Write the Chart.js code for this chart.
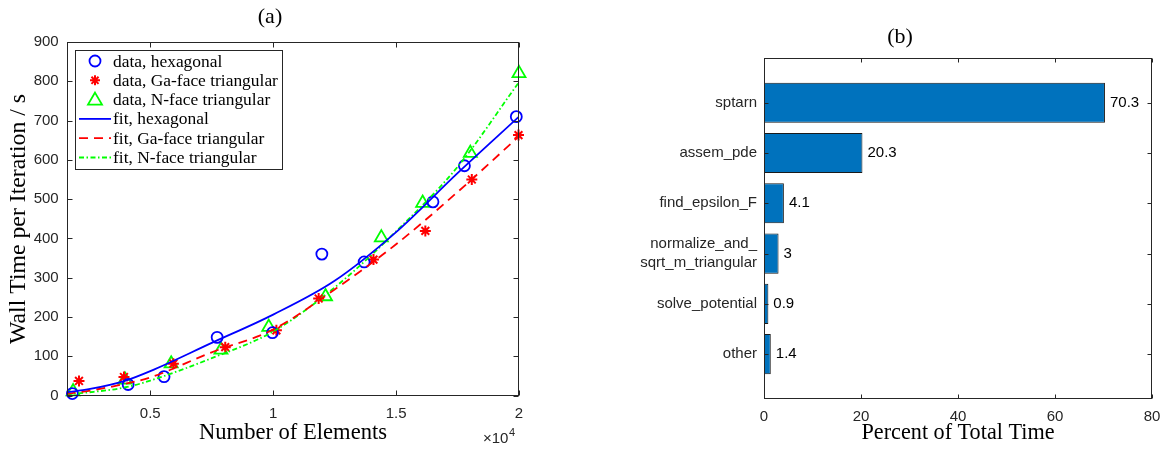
<!DOCTYPE html>
<html>
<head>
<meta charset="utf-8">
<script src="https://cdn.jsdelivr.net/npm/chart.js@4.4.0/dist/chart.umd.min.js"></script>
<style>
    html, body { margin: 0; padding: 0; background: #fff; }
    #wrap { position: relative; width: 1171px; height: 449px; }
    #boxA { position: absolute; left: 0; top: 0; }
    #boxB { position: absolute; left: 560px; top: 0; }
</style>
</head>
<body>
<div id="wrap">
    <div id="boxA"><canvas id="chartA" width="545" height="449"></canvas></div>
    <div id="boxB"><canvas id="chartB" width="611" height="449"></canvas></div>
</div>
<script>
// (a) wall time data
var hexX = [1830, 4100, 5560, 7720, 9970, 11980, 13700, 16500, 17780, 19890];
var hexY = [5, 28, 48, 148, 160, 360, 340, 493, 585, 710];
var gaX = [2100, 3930, 5940, 8050, 10130, 11850, 14080, 16190, 18080, 19980];
var gaY = [37, 47, 81, 123, 166, 247, 346, 419, 550, 663];
var nX = [1860, 3970, 5850, 7875, 9820, 12130, 14400, 16080, 18020, 20000];
var nY = [10, 40, 81, 116, 174, 252, 402, 490, 617, 820];

// fit curves
var fitX = [1600, 2500, 4000, 5000, 7500, 10000, 12500, 15000, 17500, 20000];
var hexFit = [8, 16, 38, 62, 134, 206, 292, 416, 566, 710];
var gaFit = [4, 12, 30, 46, 110, 168, 270, 385, 518, 660];
var nFit = [3, 8, 21, 38, 95, 163, 275, 418, 582, 798];

var xTicksA = [5000, 10000, 15000, 20000];
var yTicksA = [0, 100, 200, 300, 400, 500, 600, 700, 800, 900];

// (b) time breakdown
var barNames = ['sptarn', 'assem_pde', 'find_epsilon_F', ['normalize_and_', 'sqrt_m_triangular'], 'solve_potential', 'other'];
var barVals = [70.3, 20.3, 4.1, 3, 0.9, 1.4];
var xTicksB = [0, 20, 40, 60, 80];

var SANS = '"Liberation Sans", Arial, sans-serif';
var SERIF = '"Liberation Serif", "Times New Roman", serif';
var AXIS = '#262626';

function pts(xs, ys) {
    return xs.map(function (x, i) { return {x: x, y: ys[i]}; });
}

// pick a font size so the text spans about the same width as in the reference
function fitFont(ctx, text, width, family) {
    ctx.font = '20px ' + family;
    var size = 20 * width / ctx.measureText(text).width;
    return size.toFixed(2) + 'px ' + family;
}

function drawMarker(ctx, style, x, y, color) {
    ctx.save();
    ctx.strokeStyle = color;
    ctx.setLineDash([]);
    ctx.beginPath();
    if (style === 'circle') {
        ctx.lineWidth = 1.8;
        ctx.arc(x, y, 5.5, 0, Math.PI * 2);
    } else if (style === 'star') {
        ctx.lineWidth = 2;
        for (var k = 0; k < 4; k++) {
            var a = k * Math.PI / 4;
            ctx.moveTo(x - 5 * Math.cos(a), y - 5 * Math.sin(a));
            ctx.lineTo(x + 5 * Math.cos(a), y + 5 * Math.sin(a));
        }
    } else {
        ctx.lineWidth = 1.8;
        ctx.moveTo(x, y - 7);
        ctx.lineTo(x + 7, y + 5);
        ctx.lineTo(x - 7, y + 5);
        ctx.closePath();
    }
    ctx.stroke();
    ctx.restore();
}

// box round the axes with inward ticks, like MATLAB
var frameTicks = {
    id: 'frameTicks',
    afterDraw: function (chart) {
        var ctx = chart.ctx, a = chart.chartArea;
        var len = chart.canvas.id === 'chartA' ? 5 : 4;
        var l = Math.round(a.left) + 0.5, r = Math.round(a.right) - 0.5;
        var t = Math.round(a.top) + 0.5, b = Math.round(a.bottom) - 0.5;
        ctx.save();
        ctx.strokeStyle = AXIS;
        ctx.lineWidth = 1;
        ctx.strokeRect(l, t, r - l, b - t);
        ctx.beginPath();
        chart.scales.x.ticks.forEach(function (tk) {
            var px = Math.round(chart.scales.x.getPixelForValue(tk.value)) + 0.5;
            ctx.moveTo(px, b); ctx.lineTo(px, b - len);
            ctx.moveTo(px, t); ctx.lineTo(px, t + len);
        });
        chart.scales.y.ticks.forEach(function (tk) {
            var py = Math.round(chart.scales.y.getPixelForValue(tk.value)) + 0.5;
            ctx.moveTo(l, py); ctx.lineTo(l + len, py);
            ctx.moveTo(r, py); ctx.lineTo(r - len, py);
        });
        ctx.stroke();
        ctx.restore();
    }
};

var textA = {
    id: 'textA',
    afterDraw: function (chart) {
        var ctx = chart.ctx;
        ctx.save();
        ctx.fillStyle = '#000';
        ctx.textAlign = 'center';
        ctx.textBaseline = 'middle';
        ctx.font = '22px ' + SERIF;
        ctx.fillText('(a)', 270, 17);
        ctx.font = fitFont(ctx, 'Number of Elements', 188, SERIF);
        ctx.fillText('Number of Elements', 293, 433);
        ctx.save();
        ctx.translate(19, 219);
        ctx.rotate(-Math.PI / 2);
        ctx.font = fitFont(ctx, 'Wall Time per Iteration / s', 250, SERIF);
        ctx.fillText('Wall Time per Iteration / s', 0, 0);
        ctx.restore();
        // x10^4 multiplier
        ctx.fillStyle = AXIS;
        ctx.textAlign = 'left';
        ctx.textBaseline = 'alphabetic';
        ctx.font = '15px ' + SANS;
        var w = ctx.measureText('\u00d710').width;
        ctx.fillText('\u00d710', 483, 443);
        ctx.font = '11px ' + SANS;
        ctx.fillText('4', 483 + w + 0.5, 436);

        // legend
        var lx = 75.5, ly = 50.5, lw = 207, lh = 119;
        ctx.fillStyle = '#fff';
        ctx.fillRect(lx, ly, lw, lh);
        ctx.strokeStyle = AXIS;
        ctx.lineWidth = 1;
        ctx.strokeRect(lx, ly, lw, lh);
        var rows = [
            {text: 'data, hexagonal', marker: 'circle', color: '#0000ff'},
            {text: 'data, Ga-face triangular', marker: 'star', color: '#ff0000'},
            {text: 'data, N-face triangular', marker: 'triangle', color: '#00ff00'},
            {text: 'fit, hexagonal', dash: [], color: '#0000ff'},
            {text: 'fit, Ga-face triangular', dash: [9, 6], color: '#ff0000'},
            {text: 'fit, N-face triangular', dash: [5, 2.5, 1.5, 2.5], color: '#00ff00'}
        ];
        var legFont = fitFont(ctx, 'data, Ga-face triangular', 165, SERIF);
        ctx.textBaseline = 'middle';
        rows.forEach(function (row, i) {
            var y = 61 + i * 19.3;
            if (row.marker) {
                drawMarker(ctx, row.marker, 95, y, row.color);
            } else {
                ctx.save();
                ctx.strokeStyle = row.color;
                ctx.lineWidth = 1.8;
                ctx.setLineDash(row.dash);
                ctx.beginPath();
                ctx.moveTo(79, y);
                ctx.lineTo(111, y);
                ctx.stroke();
                ctx.restore();
            }
            ctx.fillStyle = '#000';
            ctx.font = legFont;
            ctx.fillText(row.text, 113, y + 1);
        });
        ctx.restore();
    }
};

var textB = {
    id: 'textB',
    afterDraw: function (chart) {
        var ctx = chart.ctx;
        ctx.save();
        ctx.fillStyle = '#000';
        ctx.textBaseline = 'middle';
        ctx.font = '15px ' + SANS;
        ctx.textAlign = 'left';
        chart.getDatasetMeta(0).data.forEach(function (bar, i) {
            ctx.fillText(String(barVals[i]), bar.x + 5, bar.y);
        });
        ctx.textAlign = 'center';
        ctx.font = '22px ' + SERIF;
        ctx.fillText('(b)', 900 - 560, 37);
        ctx.font = fitFont(ctx, 'Percent of Total Time', 193, SERIF);
        ctx.fillText('Percent of Total Time', 958 - 560, 433);
        ctx.restore();
    }
};

var tickFont = {family: SANS, size: 15};

new Chart(document.getElementById('chartA'), {
    type: 'scatter',
    data: {
        datasets: [{
            label: 'data, hexagonal',
            data: pts(hexX, hexY),
            pointStyle: 'circle', pointRadius: 5.5, borderWidth: 1.8,
            borderColor: '#0000ff', backgroundColor: 'rgba(0,0,0,0)',
            clip: false, order: 1
        }, {
            label: 'data, Ga-face triangular',
            data: pts(gaX, gaY),
            pointStyle: 'star', pointRadius: 5.5, borderWidth: 2,
            borderColor: '#ff0000', backgroundColor: 'rgba(0,0,0,0)',
            clip: false, order: 1
        }, {
            label: 'data, N-face triangular',
            data: pts(nX, nY),
            pointStyle: 'triangle', pointRadius: 7.5, borderWidth: 1.8,
            borderColor: '#00ff00', backgroundColor: 'rgba(0,0,0,0)',
            clip: false, order: 1
        }, {
            type: 'line', label: 'fit, hexagonal',
            data: pts(fitX, hexFit),
            borderColor: '#0000ff', borderWidth: 1.8, pointRadius: 0,
            cubicInterpolationMode: 'monotone', fill: false, order: 0
        }, {
            type: 'line', label: 'fit, Ga-face triangular',
            data: pts(fitX, gaFit),
            borderColor: '#ff0000', borderWidth: 1.8, borderDash: [9, 6], pointRadius: 0,
            cubicInterpolationMode: 'monotone', fill: false, order: 0
        }, {
            type: 'line', label: 'fit, N-face triangular',
            data: pts(fitX, nFit),
            borderColor: '#00ff00', borderWidth: 1.8, borderDash: [5, 2.5, 1.5, 2.5], pointRadius: 0,
            cubicInterpolationMode: 'monotone', fill: false, order: 0
        }]
    },
    options: {
        responsive: false,
        animation: false,
        layout: {padding: {left: 0, right: 26, top: 42, bottom: 0}},
        plugins: {legend: {display: false}, tooltip: {enabled: false}},
        scales: {
            x: {
                type: 'linear', min: 1600, max: 20000,
                grid: {display: false, drawTicks: false}, border: {display: false},
                afterBuildTicks: function (s) { s.ticks = xTicksA.map(function (v) { return {value: v}; }); },
                afterFit: function (s) { s.height = 53.5; },
                ticks: {
                    font: tickFont, color: AXIS, padding: 9, maxRotation: 0,
                    callback: function (v) { return String(v / 10000); }
                }
            },
            y: {
                min: 0, max: 900,
                grid: {display: false, drawTicks: false}, border: {display: false},
                afterBuildTicks: function (s) { s.ticks = yTicksA.map(function (v) { return {value: v}; }); },
                afterFit: function (s) { s.width = 66.7; },
                ticks: {font: tickFont, color: AXIS, padding: 8}
            }
        }
    },
    plugins: [frameTicks, textA]
});

new Chart(document.getElementById('chartB'), {
    type: 'bar',
    data: {
        datasets: [{
            data: barVals.map(function (v, i) { return {x: v, y: i + 1}; }),
            backgroundColor: '#0072bd', borderColor: '#1a1a1a', borderWidth: 1,
            borderSkipped: false, categoryPercentage: 1, barPercentage: 0.8
        }]
    },
    options: {
        indexAxis: 'y',
        responsive: false,
        animation: false,
        layout: {padding: {left: 0, right: 19, top: 57.5, bottom: 0}},
        plugins: {legend: {display: false}, tooltip: {enabled: false}},
        scales: {
            x: {
                type: 'linear', min: 0, max: 80,
                grid: {display: false, drawTicks: false}, border: {display: false},
                afterBuildTicks: function (s) { s.ticks = xTicksB.map(function (v) { return {value: v}; }); },
                afterFit: function (s) { s.height = 449 - 399.3; },
                ticks: {font: tickFont, color: AXIS, padding: 9, maxRotation: 0}
            },
            y: {
                type: 'linear', min: 0.1, max: 6.9, reverse: true, offset: false,
                grid: {display: false, drawTicks: false}, border: {display: false},
                afterBuildTicks: function (s) { s.ticks = barNames.map(function (n, i) { return {value: i + 1}; }); },
                afterFit: function (s) { s.width = 764 - 560; },
                ticks: {
                    font: {family: SANS, size: 15, lineHeight: 1.3}, color: AXIS, padding: 7,
                    callback: function (v) { return barNames[v - 1]; }
                }
            }
        }
    },
    plugins: [frameTicks, textB]
});
</script>
</body>
</html>
